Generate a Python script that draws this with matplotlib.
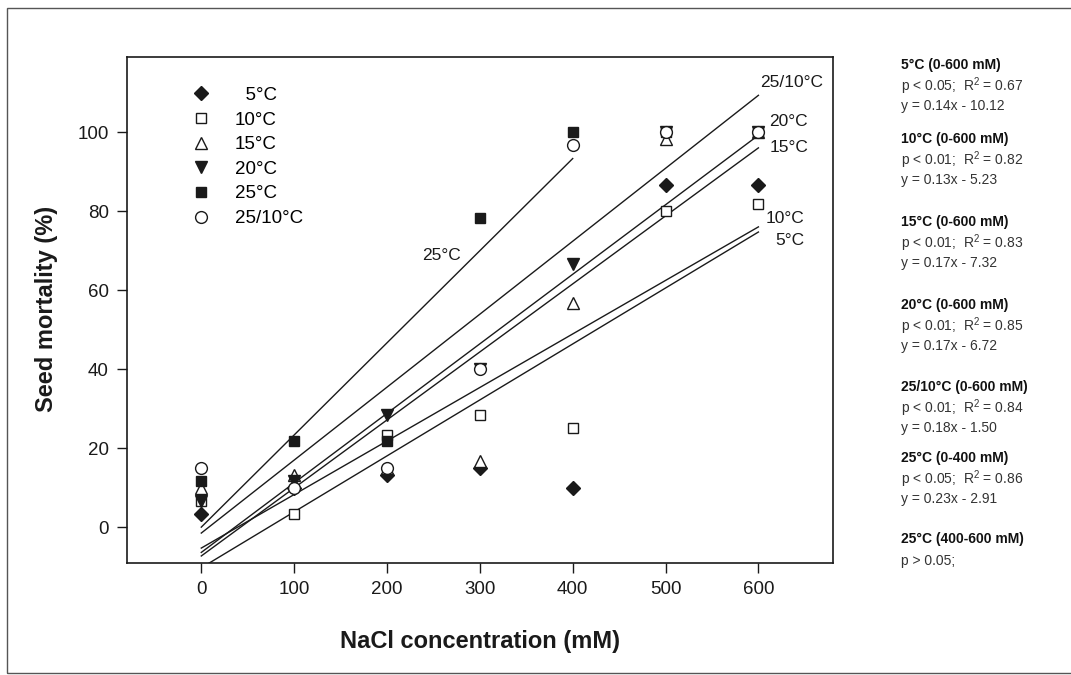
import matplotlib
matplotlib.use("Agg")
import matplotlib.pyplot as plt
from matplotlib.patches import Rectangle

plt.rcParams["font.family"] = ["Liberation Sans", "DejaVu Sans"]
plt.rcParams["mathtext.fontset"] = "custom"
plt.rcParams["mathtext.rm"] = "Liberation Sans"
plt.rcParams["mathtext.it"] = "Liberation Sans"

INK = "#1a1a1a"

# NaCl concentration (mM)
conc = [0, 100, 200, 300, 400, 500, 600]

# seed mortality (%) per temperature regime
mort_5 = [3.3, 10.0, 13.3, 15.0, 10.0, 86.7, 86.7]
mort_10 = [6.7, 3.3, 23.3, 28.3, 25.0, 80.0, 81.7]
mort_15 = [10.0, 13.3, 15.0, 16.7, 56.7, 98.3, 100.0]
mort_20 = [6.7, 11.7, 28.3, 40.0, 66.7, 100.0, 100.0]
mort_25 = [11.7, 21.7, 21.7, 78.3, 100.0, 100.0, 100.0]
mort_25_10 = [15.0, 10.0, 15.0, 40.0, 96.7, 100.0, 100.0]

labels = ["  5°C", "10°C", "15°C", "20°C", "25°C", "25/10°C"]

# regression lines as drawn: start / end (x, y)
fit_x0 = [0, 0, 0, 0, 0, 0]
fit_x1 = [600, 600, 600, 600, 400, 600]
fit_y0 = [-10.3, -5.3, -7.3, -6.4, 0.0, -1.5]
fit_y1 = [74.7, 76.0, 96.0, 99.2, 93.3, 109.3]

# line labels next to the regression lines
line_names = ["5°C", "10°C", "15°C", "20°C", "25°C", "25/10°C"]
line_lab_x = [618, 608, 612, 612, 259, 602]
line_lab_y = [72.6, 78.0, 96.0, 102.7, 68.8, 112.6]

# statistics panel on the right
stat_heads = ["5°C (0-600 mM)", "10°C (0-600 mM)", "15°C (0-600 mM)",
              "20°C (0-600 mM)", "25/10°C (0-600 mM)", "25°C (0-400 mM)",
              "25°C (400-600 mM)"]
stat_p = ["p < 0.05", "p < 0.01", "p < 0.01", "p < 0.01", "p < 0.01",
          "p < 0.05", "p > 0.05"]
stat_r2 = ["0.67", "0.82", "0.83", "0.85", "0.84", "0.86", None]
stat_eq = ["y = 0.14x - 10.12", "y = 0.13x - 5.23", "y = 0.17x - 7.32",
           "y = 0.17x - 6.72", "y = 0.18x - 1.50", "y = 0.23x - 2.91", None]
stat_head_px = [65, 139, 222, 305, 387, 458, 539]

W, H = 1071, 675
fig = plt.figure(figsize=(W / 100, H / 100), dpi=100)
ax = fig.add_axes([127 / W, 1 - 562.7 / H, 705.7 / W, 505.7 / H])

fig.patches.append(Rectangle((7 / W, 2 / H), 1.2, 1 - 10 / H,
                             transform=fig.transFigure, fill=False,
                             edgecolor="#555555", lw=1.0))

for x0, x1, y0, y1 in zip(fit_x0, fit_x1, fit_y0, fit_y1):
    ax.plot([x0, x1], [y0, y1], color=INK, lw=1.0, zorder=2)

series = [mort_5, mort_10, mort_15, mort_20, mort_25, mort_25_10]
styles = [
    dict(marker="D", ms=7.5, mfc=INK),
    dict(marker="s", ms=7.5, mfc="white"),
    dict(marker="^", ms=8.5, mfc="white"),
    dict(marker="v", ms=8.5, mfc=INK),
    dict(marker="s", ms=7.5, mfc=INK),
    dict(marker="o", ms=8.5, mfc="white"),
]
for y, lab, st in zip(series, labels, styles):
    ax.plot(conc, y, ls="none", mec=INK, mew=1.0, label=lab, zorder=3, **st)

for name, lx, ly in zip(line_names, line_lab_x, line_lab_y):
    ha = "center" if name == "25°C" else "left"
    ax.text(lx, ly, name, fontsize=12.5, color=INK, ha=ha, va="center")

ax.set_xlim(-80, 680)
ax.set_ylim(-9, 119)
ax.set_xticks(conc)
ax.set_yticks([0, 20, 40, 60, 80, 100])
ax.tick_params(direction="out", length=7, width=1.0, labelsize=13.5,
               colors=INK, pad=6)
for s in ax.spines.values():
    s.set_color(INK)
    s.set_linewidth(1.2)

ax.legend(loc="upper left", bbox_to_anchor=(0.0911, 0.941), frameon=False,
          fontsize=13.5, handlelength=1.0, handletextpad=1.33,
          labelspacing=0.40, borderpad=0, borderaxespad=0)

fig.text(46.7 / W, 1 - 309 / H, "Seed mortality (%)", rotation=90,
         fontsize=17, fontweight="bold", color=INK, ha="center", va="center")
fig.text(480 / W, 1 - 641.7 / H, "NaCl concentration (mM)",
         fontsize=17, fontweight="bold", color=INK, ha="center", va="center")

tx = 901 / W
for head, p, r2, eq, py in zip(stat_heads, stat_p, stat_r2, stat_eq,
                               stat_head_px):
    fig.text(tx, 1 - py / H, head, fontsize=10, fontweight="bold",
             color="#111111", va="center")
    if r2 is None:
        line2 = p + ";"
    else:
        line2 = p + ";  R$^2$ = " + r2
    fig.text(tx, 1 - (py + 21.5) / H, line2, fontsize=10, color="#333333",
             va="center")
    if eq is not None:
        fig.text(tx, 1 - (py + 41) / H, eq, fontsize=10, color="#333333",
                 va="center")

fig.savefig("out.png", dpi=100)
